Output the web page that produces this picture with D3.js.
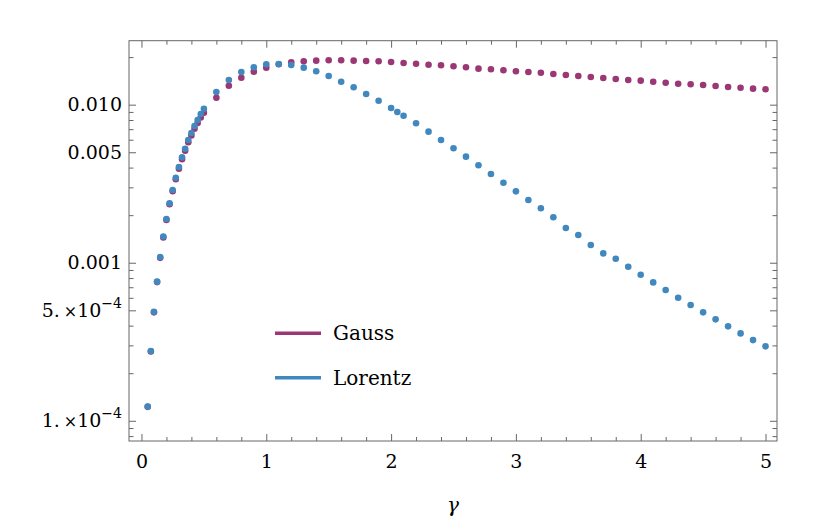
<!DOCTYPE html>
<html><head><meta charset="utf-8">
<script src="https://cdn.jsdelivr.net/npm/d3@7"></script>
<style>
body{margin:0;background:#fff}
svg{display:block}
text{font-family:"DejaVu Serif",serif;fill:#000}
</style>
</head><body>
<svg id="chart" width="830" height="524"></svg>
<script>
// ---- data ----
const gammaLorentz = [0.05,0.075,0.1,0.125,0.15,0.175,0.2,0.225,0.25,0.275,0.3,0.325,0.35,0.375,0.4,0.425,0.45,0.475,0.5,
  0.6,0.7,0.8,0.9,1.0,1.1,1.2,1.3,1.4,1.5,1.6,1.7,1.8,1.9,2.0,2.05,2.1,2.2,2.3,2.4,2.5,2.6,2.7,2.8,2.9,3.0,
  3.1,3.2,3.3,3.4,3.5,3.6,3.7,3.8,3.9,4.0,4.1,4.2,4.3,4.4,4.5,4.6,4.7,4.8,4.9,5.0];
const lorentzValues = [1.23e-4,2.76e-4,4.90e-4,7.60e-4,1.087e-3,1.465e-3,1.891e-3,2.380e-3,2.884e-3,3.451e-3,4.034e-3,4.647e-3,5.267e-3,5.978e-3,6.62e-3,7.333e-3,8.00e-3,8.73e-3,9.43e-3,
  0.01203,0.01433,0.01611,0.01725,0.01802,0.01810,0.01784,0.01715,0.01627,0.01519,0.01398,0.01288,0.01169,0.01060,9.53e-3,8.99e-3,8.52e-3,7.63e-3,6.75e-3,5.98e-3,5.30e-3,4.69e-3,4.135e-3,3.64e-3,3.21e-3,2.83e-3,
  2.493e-3,2.21e-3,1.938e-3,1.658e-3,1.497e-3,1.294e-3,1.147e-3,1.060e-3,9.43e-4,8.39e-4,7.51e-4,6.72e-4,6.005e-4,5.40e-4,4.855e-4,4.383e-4,3.958e-4,3.573e-4,3.24e-4,2.958e-4];
const gammaGauss = [0.05,0.075,0.1,0.125,0.15,0.175,0.2,0.225,0.25,0.275,0.3,0.325,0.35,0.375,0.4,0.425,0.45,0.475,0.5,
  0.6,0.7,0.8,0.9,1.0,1.1,1.2,1.3,1.4,1.5,1.6,1.7,1.8,1.9,2.0,2.1,2.2,2.3,2.4,2.5,2.6,2.7,2.8,2.9,3.0,
  3.1,3.2,3.3,3.4,3.5,3.6,3.7,3.8,3.9,4.0,4.1,4.2,4.3,4.4,4.5,4.6,4.7,4.8,4.9,5.0];
const gaussValues = [1.225e-4,2.742e-4,4.855e-4,7.545e-4,1.074e-3,1.443e-3,1.864e-3,2.342e-3,2.836e-3,3.377e-3,3.935e-3,4.52e-3,5.116e-3,5.789e-3,6.38e-3,7.04e-3,7.66e-3,8.30e-3,8.89e-3,
  0.01107,0.01319,0.01482,0.01618,0.01715,0.01802,0.01855,0.01882,0.01899,0.0191,0.0191,0.01899,0.01891,0.01882,0.01863,0.01836,0.01817,0.01791,0.01775,0.0175,0.01725,0.0169,0.01675,0.01651,0.01627,
  0.01611,0.01594,0.01564,0.01542,0.01519,0.01497,0.01476,0.01454,0.01433,0.01419,0.01398,0.01378,0.01358,0.01346,0.01333,0.01313,0.01294,0.01281,0.01263,0.01252];
const seriesNames = ["Gauss","Lorentz"];
const seriesColors = ["#9b3775","#4188bf"];
const xTickValues = [0,1,2,3,4,5];
const xMinorTicks = d3.range(0,51,2).map(d=>d/10).filter(v=>xTickValues.indexOf(v)<0);
const yTickValues = [1e-4,5e-4,1e-3,5e-3,1e-2];
const yTickLabels = [["1.","\u22124"],["5.","\u22124"],"0.001","0.005","0.010"];
const yMinorTicks = [8e-5,9e-5,2e-4,3e-4,4e-4,6e-4,7e-4,8e-4,9e-4,2e-3,3e-3,4e-3,6e-3,7e-3,8e-3,9e-3,2e-2];
const xLabel = "\u03B3";

// ---- layout ----
const L=129, R=777, T=40.7, B=441;
const svg = d3.select("#chart");
const x = d3.scaleLinear().domain([-0.1,5.092]).range([L,R]);
const y = d3.scaleLog().domain([7.45e-5,0.0254]).range([B,T]);

const frameColor="#666";
function styleAxis(g){
  g.select(".domain").remove();
  g.selectAll(".tick line").attr("stroke",frameColor).attr("stroke-width",1);
}
// bottom
svg.append("g").attr("transform",`translate(0,${B})`)
  .call(d3.axisBottom(x).tickValues(xTickValues).tickSize(-7).tickPadding(14).tickFormat(d3.format("d")))
  .call(styleAxis).call(g=>g.selectAll("text").attr("font-size",19).attr("font-family","DejaVu Serif").attr("fill","#000"));
svg.append("g").attr("transform",`translate(0,${B})`)
  .call(d3.axisBottom(x).tickValues(xMinorTicks).tickSize(-4).tickFormat("")).call(styleAxis);
// top
svg.append("g").attr("transform",`translate(0,${T})`)
  .call(d3.axisTop(x).tickValues(xTickValues).tickSize(-7).tickFormat("")).call(styleAxis);
svg.append("g").attr("transform",`translate(0,${T})`)
  .call(d3.axisTop(x).tickValues(xMinorTicks).tickSize(-4).tickFormat("")).call(styleAxis);
// left
const leftAx = svg.append("g").attr("transform",`translate(${L},0)`)
  .call(d3.axisLeft(y).tickValues(yTickValues).tickSize(-7).tickPadding(7).tickFormat(""))
  .call(styleAxis);
leftAx.selectAll(".tick text").each(function(d,i){
  const t=d3.select(this).attr("font-size",19).attr("font-family","DejaVu Serif").attr("fill","#000");
  const lab=yTickLabels[i];
  if(typeof lab==="string"){ t.text(lab); }
  else{
    t.text(null);
    t.append("tspan").text(lab[0]);
    t.append("tspan").attr("dx",4).attr("font-size",16).text("\u00D7");
    t.append("tspan").text("10");
    t.append("tspan").attr("dy",-9).attr("font-size",14).text(lab[1]);
  }
});
svg.append("g").attr("transform",`translate(${L},0)`)
  .call(d3.axisLeft(y).tickValues(yMinorTicks).tickSize(-4.5).tickFormat("")).call(styleAxis);
// right
svg.append("g").attr("transform",`translate(${R},0)`)
  .call(d3.axisRight(y).tickValues(yTickValues).tickSize(-7).tickFormat("")).call(styleAxis);
svg.append("g").attr("transform",`translate(${R},0)`)
  .call(d3.axisRight(y).tickValues(yMinorTicks).tickSize(-4.5).tickFormat("")).call(styleAxis);

// frame
svg.append("rect").attr("x",L).attr("y",T).attr("width",R-L).attr("height",B-T)
  .attr("fill","none").attr("stroke",frameColor).attr("stroke-width",1);

// axis label
svg.append("text").attr("x",(L+R)/2).attr("y",512).attr("text-anchor","middle")
  .attr("font-size",20).attr("font-style","italic").text(xLabel);

// points
const gaussData = gammaGauss.map((g,i)=>({g,v:gaussValues[i]}));
const lorentzData = gammaLorentz.map((g,i)=>({g,v:lorentzValues[i]}));
[gaussData,lorentzData].forEach((data,si)=>{
  svg.append("g").selectAll("circle").data(data).enter().append("circle")
    .attr("cx",d=>x(d.g)).attr("cy",d=>y(d.v)).attr("r",3.3)
    .attr("fill",seriesColors[si]);
});

// legend
const leg = svg.append("g");
seriesNames.forEach((n,i)=>{
  const yy = 333.3 + i*44.4;
  leg.append("line").attr("x1",275).attr("x2",321).attr("y1",yy).attr("y2",yy)
    .attr("stroke",seriesColors[i]).attr("stroke-width",3.5);
  leg.append("text").attr("x",333).attr("y",yy+7).attr("font-size",20).text(n);
});
</script>
</body></html>
